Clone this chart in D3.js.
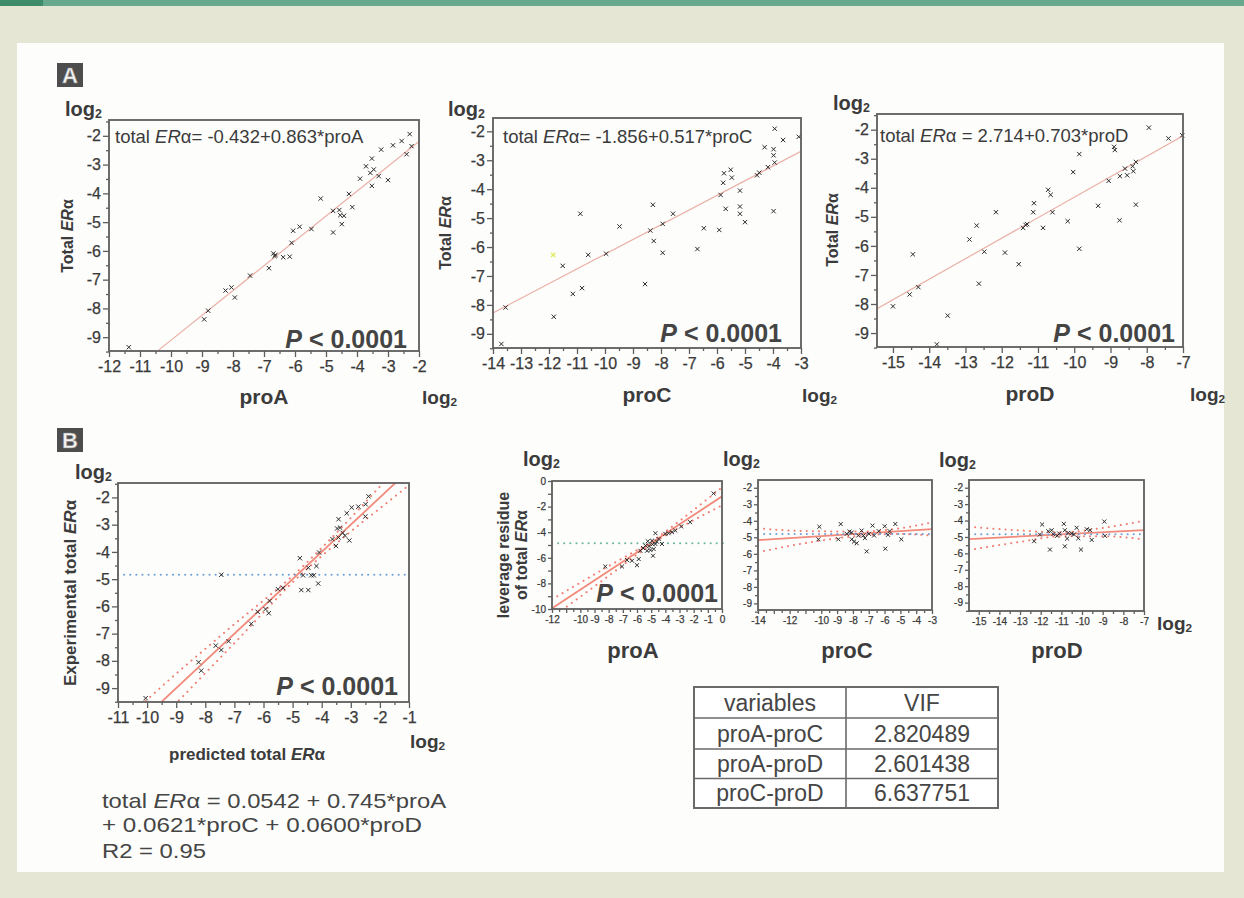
<!DOCTYPE html>
<html>
<head>
<meta charset="utf-8">
<script src="https://cdn.jsdelivr.net/npm/d3@7"></script>
<style>
  body { margin: 0; background: #e6e6d4; }
  svg { display: block; font-family: Arial, "Liberation Sans", sans-serif; }
</style>
</head>
<body>
<svg id="fig" width="1244" height="898"></svg>
<script>
// ---- data (log2 values) ----

// panel A: single regressions, [pro value, total ERa]
var proAPts = [[-11.36,-9.35],[-8.93,-8.38],[-8.8,-8.08],[-8.24,-7.38],[-8.05,-7.27],[-7.94,-7.62],
  [-7.45,-6.86],[-6.84,-6.6],[-6.7,-6.09],[-6.66,-6.18],[-6.63,-6.14],[-6.38,-6.22],[-6.17,-6.2],
  [-6.11,-5.72],[-6.06,-5.3],[-5.85,-5.16],[-5.47,-5.24],[-5.17,-4.18],[-4.77,-5.36],[-4.77,-4.61],
  [-4.57,-4.58],[-4.54,-4.76],[-4.42,-4.78],[-4.49,-5.07],[-4.26,-4.02],[-4.15,-4.48],[-3.9,-3.49],
  [-3.71,-3.06],[-3.52,-2.79],[-3.57,-3.29],[-3.46,-3.17],[-3.52,-3.74],[-3.3,-3.4],[-3.22,-2.48],
  [-3.0,-3.54],[-2.84,-2.33],[-2.56,-2.18],[-2.3,-1.94],[-2.24,-2.36],[-2.4,-2.64]];

var proCPts = [[-13.7,-9.35],[-13.55,-8.09],[-11.83,-8.41],[-11.51,-6.65],[-11.15,-7.62],
  [-10.82,-7.42],[-10.88,-4.85],[-10.6,-6.27],[-9.96,-6.23],[-9.48,-5.29],[-8.57,-7.28],[-8.38,-5.43],
  [-8.29,-4.54],[-8.26,-5.79],[-7.94,-6.2],[-7.94,-5.2],[-7.57,-4.85],[-6.7,-6.07],[-6.47,-5.35],
  [-5.92,-5.41],[-5.87,-4.2],[-5.78,-3.78],[-5.75,-3.45],[-5.69,-4.68],[-5.51,-3.33],[-5.47,-3.6],
  [-5.18,-4.05],[-5.18,-4.6],[-5.18,-4.85],[-5.0,-5.14],[-4.57,-3.52],[-4.49,-3.43],[-4.3,-2.55],
  [-4.18,-3.24],[-3.98,-2.62],[-3.98,-2.83],[-3.94,-3.08],[-3.94,-1.91],[-3.98,-4.76],[-3.64,-2.3],
  [-3.08,-2.19]];
var proCFaint = [[-11.85,-6.27]];

var proDPts = [[-15.0,-8.08],[-14.54,-7.67],[-14.3,-7.42],[-14.45,-6.29],[-13.79,-9.39],[-13.49,-8.4],
  [-12.89,-5.78],[-12.69,-5.3],[-12.63,-7.3],[-12.48,-6.2],[-12.16,-4.84],[-11.91,-6.23],[-11.53,-6.63],
  [-11.41,-5.38],[-11.34,-5.28],[-11.3,-5.25],[-11.11,-4.53],[-11.13,-4.84],[-10.86,-5.38],[-10.72,-4.07],
  [-10.65,-4.24],[-10.6,-4.84],[-10.18,-5.15],[-10.03,-3.46],[-9.86,-2.84],[-9.86,-6.1],[-9.34,-4.62],
  [-9.05,-3.76],[-8.9,-2.59],[-8.88,-2.7],[-8.75,-5.12],[-8.74,-3.6],[-8.6,-3.34],[-8.54,-3.57],
  [-8.39,-3.26],[-8.37,-3.43],[-8.3,-3.11],[-8.3,-4.58],[-7.94,-1.93],[-7.4,-2.3],[-7.02,-2.19]];

// fitted lines, as drawn (two end points)
var fitA = [[-10.4,-9.45],[-2,-2.2]];
var fitC = [[-14,-8.28],[-3,-2.69]];
var fitD = [[-15.44,-8.16],[-7,-2.21]];

// panel B: predicted vs experimental
var predPts = [[-10.05,-9.37],[-8.23,-8.05],[-8.14,-8.36],[-7.64,-7.44],[-7.45,-7.6],[-7.2,-7.28],
  [-7.45,-4.84],[-6.42,-6.64],[-6.2,-6.2],[-5.93,-6.1],[-5.82,-6.25],[-5.79,-5.8],[-5.5,-5.37],
  [-5.33,-5.32],[-4.75,-4.23],[-4.7,-5.4],[-4.46,-5.4],[-4.64,-4.86],[-4.36,-4.86],[-4.27,-4.86],
  [-4.46,-4.58],[-4.18,-4.52],[-4.12,-5.16],[-4.09,-4.02],[-3.63,-3.53],[-3.51,-3.78],[-3.42,-2.8],
  [-3.42,-3.47],[-3.47,-3.14],[-3.28,-3.3],[-3.2,-3.4],[-3.05,-3.58],[-3.14,-2.58],[-2.97,-2.37],
  [-2.74,-2.34],[-2.49,-2.25],[-2.39,-1.96],[-2.5,-2.7],[-3.37,-3.11]];
var predFit = [[-11,-11],[-1,-1]];
var predBandX = [-11, -10, -9, -8, -7, -6, -5, -4, -3, -2, -1];
var predBandUp = [-10.35, -9.42, -8.47, -7.56, -6.65, -5.78, -4.88, -3.85, -2.75, -1.6, -0.45];
var predBandLo = [-11.65, -10.6, -9.55, -8.45, -7.35, -6.22, -5.12, -4.15, -3.25, -2.4, -1.55];

// panel B: leverage plots
var levAPts = [[-8.24,-6.68],[-7.06,-6.68],[-6.7,-6.18],[-6.35,-6.23],[-6.0,-6.58],[-5.88,-6.1],
  [-5.76,-5.45],[-5.57,-5.24],[-5.4,-5.05],[-5.29,-5.45],[-5.24,-4.71],[-5.05,-5.4],[-4.94,-4.66],
  [-4.82,-5.32],[-4.87,-5.84],[-4.7,-4.92],[-4.59,-4.74],[-4.47,-4.53],[-4.7,-4.08],[-4.24,-4.92],
  [-4.0,-4.13],[-3.77,-4.08],[-3.53,-4.0],[-3.3,-3.87],[-2.88,-3.55],[-2.25,-3.21],[-0.6,-0.97],
  [-5.15,-5.1],[-4.9,-4.95]];
var levAFit = [[-12,-9.95],[0,-1.2]];
var levABandX = [-12, -10, -8, -6, -5, -4, -2, 0];
var levABandUp = [-9.25, -7.94, -6.65, -5.39, -4.75, -3.96, -2.26, -0.5];
var levABandLo = [-10.65, -9.04, -7.41, -5.75, -4.95, -4.26, -3.06, -1.9];

var levCPts = [[-10.12,-4.36],[-10.18,-5.12],[-8.77,-4.2],[-8.92,-5.12],[-8.22,-4.65],[-8.07,-4.71],
  [-8.07,-5.12],[-7.93,-5.26],[-7.76,-5.36],[-7.45,-4.59],[-7.34,-4.89],[-7.24,-5.05],[-7.13,-5.85],
  [-6.99,-4.79],[-6.76,-4.29],[-6.66,-4.89],[-6.37,-4.63],[-5.99,-4.33],[-5.95,-5.69],[-5.78,-4.85],
  [-5.68,-4.63],[-5.32,-4.19],[-4.94,-5.12],[-7.66,-4.89],[-8.39,-4.79]];
var levCFit = [[-14,-5.17],[-3,-4.5]];
var levCBandX = [-14, -11, -7.5, -5, -3];
var levCBandUp = [-4.45, -4.62, -4.65, -4.45, -4.1];
var levCBandLo = [-5.9, -5.35, -4.9, -4.8, -4.9];

var levDPts = [[-12.32,-5.26],[-11.93,-4.24],[-12.04,-4.85],[-11.63,-4.65],[-11.47,-4.59],
  [-11.55,-5.77],[-11.39,-4.83],[-11.2,-4.93],[-10.88,-4.2],[-10.83,-4.59],[-10.72,-5.1],
  [-10.83,-5.57],[-10.5,-4.79],[-10.39,-4.85],[-10.26,-4.44],[-10.18,-5.08],[-10.05,-5.77],
  [-9.77,-4.53],[-9.61,-4.59],[-9.53,-5.18],[-8.92,-4.06],[-8.89,-4.93],[-10.66,-4.75],[-11.1,-4.79]];
var levDFit = [[-15.47,-5.13],[-7,-4.58]];
var levDBandX = [-15.47, -13, -11, -9, -7];
var levDBandUp = [-4.38, -4.6, -4.72, -4.45, -4.02];
var levDBandLo = [-5.8, -5.3, -4.96, -4.95, -5.15];

var meanERa = -4.84;

// VIF table
var vifVars = ['proA-proC', 'proA-proD', 'proC-proD'];
var vifValues = ['2.820489', '2.601438', '6.637751'];

var modelLines = ['= 0.0542 + 0.745*proA', '+ 0.0621*proC + 0.0600*proD', 'R2 = 0.95'];


var INK = '#3b3b3b';
var svg = d3.select('#fig');

function range(a, b, step) {
  return d3.range(a, b + step / 2, step);
}

function translate(x, y) {
  return 'translate(' + x + ',' + y + ')';
}


function drawPage() {
  svg.append('rect')
    .attr('width', 1244).attr('height', 898)
    .attr('fill', '#e6e6d4');
  svg.append('rect')
    .attr('width', 1244).attr('height', 6)
    .attr('fill', '#67a98c');
  svg.append('rect')
    .attr('width', 43).attr('height', 6)
    .attr('fill', '#3e8b69');
  svg.append('rect')
    .attr('x', 17).attr('y', 43)
    .attr('width', 1207).attr('height', 829)
    .attr('fill', '#fdfdfb');

  letterBox(57, 63, 'A');
  letterBox(57, 428, 'B');
}

function letterBox(x, y, s) {
  svg.append('rect')
    .attr('x', x).attr('y', y)
    .attr('width', 26).attr('height', 24)
    .attr('fill', '#4d4d4d');
  svg.append('text')
    .attr('x', x + 13).attr('y', y + 20)
    .attr('text-anchor', 'middle')
    .attr('font-size', 22).attr('font-weight', 'bold')
    .attr('fill', '#f4f4f4')
    .attr('stroke', '#888').attr('stroke-width', 0.6)
    .text(s);
}

function log2(x, y, size, anchor) {
  var t = svg.append('text')
    .attr('x', x).attr('y', y)
    .attr('text-anchor', anchor || 'start')
    .attr('font-size', size).attr('font-weight', 'bold')
    .attr('fill', INK);
  t.append('tspan').text('log');
  t.append('tspan')
    .attr('font-size', size * 0.62)
    .attr('dy', size * 0.12)
    .text('2');
}

// text with an italic "ER" piece: parts = [[string, italic], ...]
function richText(g, parts) {
  parts.forEach(function(p) {
    g.append('tspan')
      .attr('font-style', p[1] ? 'italic' : null)
      .text(p[0]);
  });
  return g;
}


function drawPlot(p) {
  var x = d3.scaleLinear().domain(p.xDomain).range([p.left, p.right]);
  var y = d3.scaleLinear().domain(p.yDomain).range([p.bottom, p.top]);
  var g = svg.append('g').attr('class', 'plot-' + p.id);
  var fs = p.small ? 10 : 16;

  g.append('clipPath')
    .attr('id', 'clip-' + p.id)
    .append('rect')
      .attr('x', p.left).attr('y', p.top)
      .attr('width', p.right - p.left).attr('height', p.bottom - p.top);

  // minor ticks
  g.append('g')
    .attr('transform', translate(0, p.bottom))
    .call(d3.axisBottom(x).tickValues(p.xMinor).tickSize(3).tickFormat(''))
    .call(cleanAxis);
  g.append('g')
    .attr('transform', translate(p.left, 0))
    .call(d3.axisLeft(y).tickValues(p.yMinor).tickSize(3).tickFormat(''))
    .call(cleanAxis);

  // major ticks with labels
  g.append('g')
    .attr('transform', translate(0, p.bottom))
    .call(d3.axisBottom(x)
      .tickValues(p.xTicks)
      .tickSize(p.small ? 4 : 6)
      .tickPadding(p.small ? 3 : 4)
      .tickFormat(function(d) {
        return p.xLabels.indexOf(d) >= 0 ? String(d) : '';
      }))
    .call(cleanAxis)
    .call(function(a) { a.selectAll('text').attr('font-size', fs); });
  g.append('g')
    .attr('transform', translate(p.left, 0))
    .call(d3.axisLeft(y)
      .tickValues(p.yTicks)
      .tickSize(p.small ? 4 : 6)
      .tickPadding(2)
      .tickFormat(function(d) {
        return p.yLabels.indexOf(d) >= 0 ? String(d) : '';
      }))
    .call(cleanAxis)
    .call(function(a) { a.selectAll('text').attr('font-size', fs); });

  var body = g.append('g').attr('clip-path', 'url(#clip-' + p.id + ')');
  var line = d3.line()
    .x(function(d) { return x(d[0]); })
    .y(function(d) { return y(d[1]); });

  if (p.mean !== undefined) {
    g.append('line')
      .attr('x1', x(p.xDomain[0])).attr('x2', x(p.xDomain[1]) + (p.meanOver || 0))
      .attr('y1', y(p.mean)).attr('y2', y(p.mean))
      .attr('stroke', p.meanColor || '#6f9fd6')
      .attr('stroke-width', 2)
      .attr('stroke-linecap', 'round')
      .attr('stroke-dasharray', '0.1,6');
  }

  if (p.band) {
    var bandLine = d3.line()
      .curve(d3.curveMonotoneX)
      .x(function(d) { return x(d[0]); })
      .y(function(d) { return y(d[1]); });
    [p.band.up, p.band.lo].forEach(function(ys) {
      body.append('path')
        .datum(p.band.x.map(function(v, i) { return [v, ys[i]]; }))
        .attr('d', bandLine)
        .attr('fill', 'none')
        .attr('stroke', '#f07c74')
        .attr('stroke-width', 2)
        .attr('stroke-linecap', 'round')
        .attr('stroke-dasharray', '0.1,6');
    });
  }

  body.append('path')
    .datum(p.fit)
    .attr('d', line)
    .attr('fill', 'none')
    .attr('stroke', p.fitColor || '#eab0a6')
    .attr('stroke-width', p.fitWidth || 1.2);

  var sym = d3.symbol().type(d3.symbolTimes).size(p.small ? 12 : 14);
  g.append('g')
    .selectAll('path')
    .data(p.points)
    .enter()
    .append('path')
      .attr('transform', function(d) { return translate(x(d[0]), y(d[1])); })
      .attr('d', sym)
      .attr('fill', 'none')
      .attr('stroke', '#2b2b2b')
      .attr('stroke-width', 1);

  if (p.faint) {
    g.append('g')
      .selectAll('path')
      .data(p.faint)
      .enter()
      .append('path')
        .attr('transform', function(d) { return translate(x(d[0]), y(d[1])); })
        .attr('d', sym)
        .attr('fill', 'none')
        .attr('stroke', '#e6ea6a')
        .attr('stroke-width', 1.4);
  }

  g.append('rect')
    .attr('x', p.left).attr('y', p.top)
    .attr('width', p.right - p.left).attr('height', p.bottom - p.top)
    .attr('fill', 'none')
    .attr('stroke', '#5e5e5e')
    .attr('stroke-width', 1.8);

  if (p.pText) {
    svg.append('text')
      .attr('x', p.pText[0]).attr('y', p.pText[1])
      .attr('text-anchor', 'end')
      .attr('font-size', 25).attr('font-weight', 'bold')
      .attr('fill', '#444')
      .call(richText, [['P', true], [' < 0.0001', false]]);
  }
  if (p.eq) {
    svg.append('text')
      .attr('x', p.eq.x).attr('y', p.eq.y)
      .attr('font-size', 18.5)
      .attr('fill', INK)
      .call(richText, [['total ', false], ['ER', true], ['α', false], [p.eq.s, false]]);
  }
  if (p.logTop) log2(p.logTop[0], p.logTop[1], 20);
  if (p.logRight) log2(p.logRight[0], p.logRight[1], 19);
  if (p.xTitle) {
    svg.append('text')
      .attr('x', p.xTitle.x).attr('y', p.xTitle.y)
      .attr('text-anchor', 'middle')
      .attr('font-size', p.xTitle.size || 21).attr('font-weight', 'bold')
      .attr('fill', INK)
      .call(richText, p.xTitle.parts);
  }
  (p.yTitles || []).forEach(function(t) {
    svg.append('text')
      .attr('transform', translate(t.x, t.y) + ' rotate(-90)')
      .attr('text-anchor', 'middle')
      .attr('font-size', t.size).attr('font-weight', 'bold')
      .attr('fill', INK)
      .call(richText, t.parts);
  });
}

function cleanAxis(a) {
  a.select('.domain').remove();
  a.selectAll('line').attr('stroke', '#5e5e5e').attr('stroke-width', 1.3);
  a.selectAll('text')
    .attr('fill', '#3a3a3a')
    .attr('stroke', '#3a3a3a').attr('stroke-width', 0.25)
    .attr('font-family', 'Arial, "Liberation Sans", sans-serif');
}


function drawTable() {
  var left = 694, mid = 846, right = 998;
  var rows = [687, 718, 749, 778.5, 808];
  var g = svg.append('g').attr('class', 'vif');

  g.append('rect')
    .attr('x', left).attr('y', rows[0])
    .attr('width', right - left).attr('height', rows[4] - rows[0])
    .attr('fill', '#fff')
    .attr('stroke', '#6a6a6a').attr('stroke-width', 2);
  g.append('line')
    .attr('x1', mid).attr('x2', mid)
    .attr('y1', rows[0]).attr('y2', rows[4])
    .attr('stroke', '#6a6a6a').attr('stroke-width', 1.6);
  g.selectAll('.row-line')
    .data(rows.slice(1, 4))
    .enter()
    .append('line')
      .attr('class', 'row-line')
      .attr('x1', left).attr('x2', right)
      .attr('y1', function(d) { return d; }).attr('y2', function(d) { return d; })
      .attr('stroke', '#6a6a6a').attr('stroke-width', 1.6);

  var cells = [['variables', 'VIF']].concat(vifVars.map(function(v, i) {
    return [v, vifValues[i]];
  }));
  cells.forEach(function(row, i) {
    var cy = (rows[i] + rows[i + 1]) / 2 + 8;
    g.append('text')
      .attr('x', (left + mid) / 2).attr('y', cy)
      .attr('text-anchor', 'middle')
      .attr('font-size', 23).attr('fill', '#454545')
      .text(row[0]);
    g.append('text')
      .attr('x', (mid + right) / 2).attr('y', cy)
      .attr('text-anchor', 'middle')
      .attr('font-size', 23).attr('fill', '#454545')
      .text(row[1]);
  });
}

function drawModel() {
  var ys = [808, 832, 858];
  var widths = [344, 320, 104];
  var t = svg.append('text')
    .attr('x', 102).attr('y', ys[0])
    .attr('font-size', 21).attr('fill', '#454545')
    .attr('textLength', widths[0]).attr('lengthAdjust', 'spacingAndGlyphs');
  richText(t, [['total ', false], ['ER', true], ['α', false], [' ' + modelLines[0], false]]);
  [1, 2].forEach(function(i) {
    svg.append('text')
      .attr('x', 102).attr('y', ys[i])
      .attr('font-size', 21).attr('fill', '#454545')
      .attr('textLength', widths[i]).attr('lengthAdjust', 'spacingAndGlyphs')
      .text(modelLines[i]);
  });
}


var totalTitle = [['Total ', false], ['ER', true], ['α', false]];

drawPage();

drawPlot({
  id: 'a1', left: 109, right: 419, top: 120, bottom: 351,
  xDomain: [-12, -2], yDomain: [-9.48, -1.45],
  xTicks: range(-12, -2, 1), xLabels: range(-12, -2, 1), xMinor: range(-11.5, -2.5, 1),
  yTicks: range(-9, -2, 1), yLabels: range(-9, -2, 1), yMinor: range(-9.5, -1.5, 1),
  points: proAPts, fit: fitA,
  eq: {x: 115, y: 143, s: '= -0.432+0.863*proA'},
  pText: [407, 348], logTop: [65, 116], logRight: [422, 404],
  xTitle: {x: 264, y: 404, parts: [['proA', false]]},
  yTitles: [{x: 73, y: 236, size: 16, parts: totalTitle}]
});

drawPlot({
  id: 'a2', left: 493, right: 801, top: 118, bottom: 348,
  xDomain: [-14, -3], yDomain: [-9.49, -1.54],
  xTicks: range(-14, -3, 1), xLabels: range(-14, -3, 1), xMinor: range(-13.5, -3.5, 1),
  yTicks: range(-9, -2, 1), yLabels: range(-9, -2, 1), yMinor: range(-9.5, -2.5, 1),
  points: proCPts, faint: proCFaint, fit: fitC,
  eq: {x: 503, y: 143, s: '= -1.856+0.517*proC'},
  pText: [782, 342], logTop: [448, 116], logRight: [802, 402],
  xTitle: {x: 647, y: 402, parts: [['proC', false]]},
  yTitles: [{x: 451, y: 233, size: 16, parts: totalTitle}]
});

drawPlot({
  id: 'a3', left: 877, right: 1183, top: 114, bottom: 347,
  xDomain: [-15.44, -7], yDomain: [-9.48, -1.46],
  xTicks: range(-15, -7, 1), xLabels: range(-15, -7, 1), xMinor: range(-14.5, -7.5, 1),
  yTicks: range(-9, -2, 1), yLabels: range(-9, -2, 1), yMinor: range(-9.5, -1.5, 1),
  points: proDPts, fit: fitD,
  eq: {x: 880, y: 142, s: ' = 2.714+0.703*proD'},
  pText: [1175, 342], logTop: [833, 110], logRight: [1190, 401],
  xTitle: {x: 1030, y: 401, parts: [['proD', false]]},
  yTitles: [{x: 838, y: 230, size: 16, parts: totalTitle}]
});

drawPlot({
  id: 'b0', left: 118, right: 409, top: 483, bottom: 702,
  xDomain: [-11, -1], yDomain: [-9.51, -1.47],
  xTicks: range(-11, -1, 1), xLabels: range(-11, -1, 1), xMinor: range(-10.5, -1.5, 1),
  yTicks: range(-9, -2, 1), yLabels: range(-9, -2, 1), yMinor: range(-9.5, -1.5, 1),
  points: predPts, fit: predFit, fitColor: '#f28a7c', fitWidth: 1.8,
  band: {x: predBandX, up: predBandUp, lo: predBandLo},
  mean: meanERa,
  pText: [398, 695], logTop: [75, 479], logRight: [410, 748],
  xTitle: {x: 247, y: 760, size: 17, parts: [['predicted total ', false], ['ER', true], ['α', false]]},
  yTitles: [{x: 76, y: 593, size: 17, parts: [['Experimental total ', false], ['ER', true], ['α', false]]}]
});

drawPlot({
  id: 'b1', small: true, left: 552, right: 722, top: 481, bottom: 609,
  xDomain: [-12, 0], yDomain: [-10, 0],
  xTicks: range(-12, 0, 1), xLabels: [-12, -10, -9, -8, -7, -6, -5, -4, -3, -2, -1, 0],
  xMinor: range(-11.5, -0.5, 1),
  yTicks: range(-10, 0, 1), yLabels: [-10, -8, -6, -4, -2, 0], yMinor: [],
  points: levAPts, fit: levAFit, fitColor: '#f28a7c', fitWidth: 1.8,
  band: {x: levABandX, up: levABandUp, lo: levABandLo},
  mean: -4.87, meanColor: '#6cb5a2', meanOver: 6,
  pText: [718, 602], logTop: [523, 466],
  xTitle: {x: 633, y: 658, size: 22, parts: [['proA', false]]},
  yTitles: [
    {x: 509, y: 555, size: 16, parts: [['leverage residue', false]]},
    {x: 527, y: 555, size: 16, parts: [['of total ', false], ['ER', true], ['α', false]]}
  ]
});

drawPlot({
  id: 'b2', small: true, left: 758, right: 932, top: 480, bottom: 610,
  xDomain: [-14, -3], yDomain: [-9.4, -1.53],
  xTicks: range(-14, -3, 1), xLabels: [-14, -12, -10, -9, -8, -7, -6, -5, -4, -3],
  xMinor: range(-13.5, -3.5, 1),
  yTicks: range(-9, -2, 1), yLabels: range(-9, -2, 1), yMinor: range(-9.5, -2.5, 1),
  points: levCPts, fit: levCFit, fitColor: '#f28a7c', fitWidth: 1.8,
  band: {x: levCBandX, up: levCBandUp, lo: levCBandLo},
  mean: -4.8,
  logTop: [723, 466],
  xTitle: {x: 847, y: 658, size: 22, parts: [['proC', false]]}
});

drawPlot({
  id: 'b3', small: true, left: 969, right: 1144, top: 480, bottom: 611,
  xDomain: [-15.47, -7], yDomain: [-9.51, -1.53],
  xTicks: range(-15, -7, 1), xLabels: range(-15, -7, 1), xMinor: range(-14.5, -7.5, 1),
  yTicks: range(-9, -2, 1), yLabels: range(-9, -2, 1), yMinor: range(-9.5, -2.5, 1),
  points: levDPts, fit: levDFit, fitColor: '#f28a7c', fitWidth: 1.8,
  band: {x: levDBandX, up: levDBandUp, lo: levDBandLo},
  mean: -4.83,
  logTop: [939, 467], logRight: [1157, 630],
  xTitle: {x: 1057, y: 658, size: 22, parts: [['proD', false]]}
});

drawTable();
drawModel();
</script>
</body>
</html>
